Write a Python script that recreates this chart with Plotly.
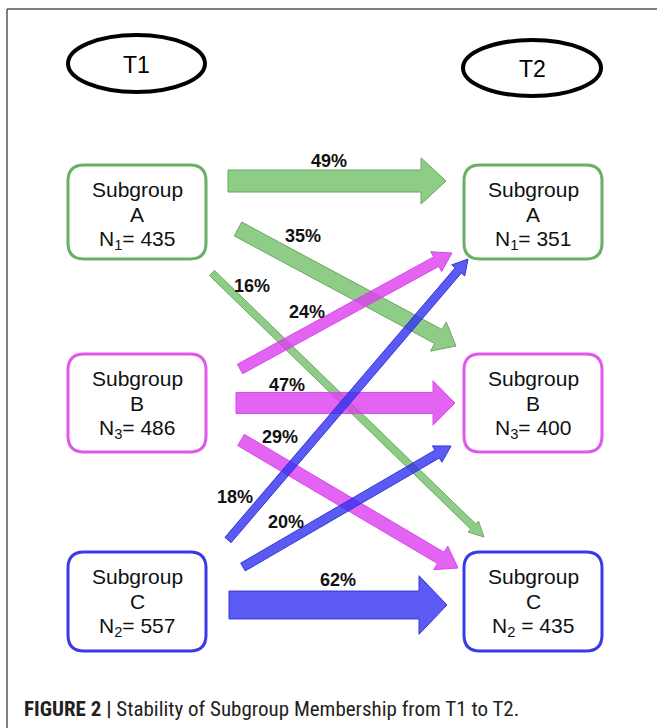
import math
import plotly.graph_objects as go

# ---------------- data ----------------
groups = ["A", "B", "C"]
n_t1 = [435, 486, 557]
n_t2 = [351, 400, 435]
n_t1_sub = ["1", "3", "2"]
n_t2_sub = ["1", "3", "2"]
n_t2_sep = ["= ", "= ", " = "]
from_A = [49, 35, 16]   # % moving A -> A, B, C
from_B = [24, 47, 29]   # % moving B -> A, B, C
from_C = [18, 20, 62]   # % moving C -> A, B, C
time_labels = ["T1", "T2"]
caption_bold = "FIGURE 2 |"
caption_text = "Stability of Subgroup Membership from T1 to T2."

# ---------------- layout / style ----------------
W, H = 657, 728
FONT = "Liberation Sans, Arial, sans-serif"
stroke_cols = ["#6ab064", "#e058ec", "#3a3ae8"]
fill_cols = ["rgba(100,185,90,0.72)", "rgba(220,60,240,0.80)", "rgba(50,50,240,0.80)"]
line_cols = ["#68aa5c", "#d64ae6", "#3434e0"]

LEFT_X = (68, 206)
RIGHT_X = (464, 602)
ROW_Y = [(165, 259), (354, 452), (552, 651)]

# arrow geometry, in flow order A->A, A->B, A->C, B->A, ...
arrow_start = [(228, 181), (238, 229), (212, 273),
               (240, 369), (236, 403), (241, 440),
               (228, 540), (243, 567), (229, 605)]
arrow_tip = [(446, 181), (456, 346), (484, 537),
             (452, 253), (455, 403), (458, 568),
             (468, 259), (451, 446), (447, 605)]
arrow_head_len = [25, 20, 15, 18, 22, 20, 15, 16, 28]
label_xy = [(329, 161), (303, 236), (252, 286),
            (307, 312), (287, 385), (280, 437),
            (235, 497), (286, 522), (338, 580)]
WIDTH_PER_PCT = 0.45

fig = go.Figure()


def arrow_polygon(s, t, w, hw, hl):
    dx, dy = t[0] - s[0], t[1] - s[1]
    L = math.hypot(dx, dy)
    ux, uy = dx / L, dy / L
    nx, ny = -uy, ux
    bx, by = t[0] - ux * hl, t[1] - uy * hl
    pts = [
        (s[0] + nx * w / 2, s[1] + ny * w / 2),
        (bx + nx * w / 2, by + ny * w / 2),
        (bx + nx * hw / 2, by + ny * hw / 2),
        (t[0], t[1]),
        (bx - nx * hw / 2, by - ny * hw / 2),
        (bx - nx * w / 2, by - ny * w / 2),
        (s[0] - nx * w / 2, s[1] - ny * w / 2),
    ]
    pts.append(pts[0])
    return [p[0] for p in pts], [p[1] for p in pts]


flows = [from_A, from_B, from_C]
annotations = []
k = 0
for i, row in enumerate(flows):
    for j, pct in enumerate(row):
        w = WIDTH_PER_PCT * pct
        hw = max(2.1 * w, 15)
        xs, ys = arrow_polygon(arrow_start[k], arrow_tip[k], w, hw, arrow_head_len[k])
        fig.add_trace(go.Scatter(x=xs, y=ys, mode="lines", fill="toself",
                                 fillcolor=fill_cols[i],
                                 line=dict(color=line_cols[i], width=1),
                                 hoverinfo="skip", showlegend=False))
        annotations.append(dict(x=label_xy[k][0], y=label_xy[k][1], text=f"<b>{pct}%</b>",
                                showarrow=False, xanchor="center", yanchor="middle",
                                font=dict(family=FONT, size=18, color="#111111")))
        k += 1


def rounded_rect(x0, y0, x1, y1, r):
    return (f"M{x0 + r},{y0} L{x1 - r},{y0} Q{x1},{y0} {x1},{y0 + r} "
            f"L{x1},{y1 - r} Q{x1},{y1} {x1 - r},{y1} L{x0 + r},{y1} "
            f"Q{x0},{y1} {x0},{y1 - r} L{x0},{y0 + r} Q{x0},{y0} {x0 + r},{y0} Z")


shapes = []
# frame
shapes.append(dict(type="line", x0=7, y0=9, x1=W + 5, y1=9, line=dict(color="#555555", width=1.5)))
shapes.append(dict(type="line", x0=7, y0=9, x1=7, y1=H + 5, line=dict(color="#555555", width=1.5)))

# ellipses
ell = [(68, 35, 205, 92), (463, 40, 601, 96)]
for (x0, y0, x1, y1), lab in zip(ell, time_labels):
    shapes.append(dict(type="circle", x0=x0, y0=y0, x1=x1, y1=y1,
                       line=dict(color="black", width=4)))
    annotations.append(dict(x=(x0 + x1) / 2, y=(y0 + y1) / 2 + 1, text=lab, showarrow=False,
                            font=dict(family=FONT, size=23, color="black")))

# boxes
for side, (bx0, bx1), nvals, subs in [("L", LEFT_X, n_t1, n_t1_sub), ("R", RIGHT_X, n_t2, n_t2_sub)]:
    for i, g in enumerate(groups):
        y0, y1 = ROW_Y[i]
        shapes.append(dict(type="path", path=rounded_rect(bx0, y0, bx1, y1, 16),
                           line=dict(color=stroke_cols[i], width=3), fillcolor="rgba(0,0,0,0)"))
        cx = (bx0 + bx1) / 2
        sep = "= " if side == "L" else n_t2_sep[i]
        lines = ["Subgroup", g, f"N<sub>{subs[i]}</sub>{sep}{nvals[i]}"]
        offs = [24, 49, 75]
        for txt, off in zip(lines, offs):
            annotations.append(dict(x=cx, y=y0 + off, text=txt, showarrow=False,
                                    xanchor="center", yanchor="middle",
                                    font=dict(family=FONT, size=21, color="#111111")))

# caption
annotations.append(dict(x=22, y=709, xanchor="left", yanchor="middle", showarrow=False,
                        text=f"<b>{caption_bold}</b> {caption_text}",
                        font=dict(family="Liberation Sans Narrow, Roboto Condensed, Liberation Sans", size=21,
                                  color="#231f20")))

fig.update_layout(
    width=W, height=H, autosize=False,
    margin=dict(l=0, r=0, t=0, b=0),
    paper_bgcolor="white", plot_bgcolor="white",
    xaxis=dict(range=[0, W], visible=False, fixedrange=True),
    yaxis=dict(range=[H, 0], visible=False, fixedrange=True),
    shapes=shapes, annotations=annotations, showlegend=False,
)

fig.write_html("out.html", config={"displayModeBar": False},
               post_script="document.body.style.margin='0px';")
